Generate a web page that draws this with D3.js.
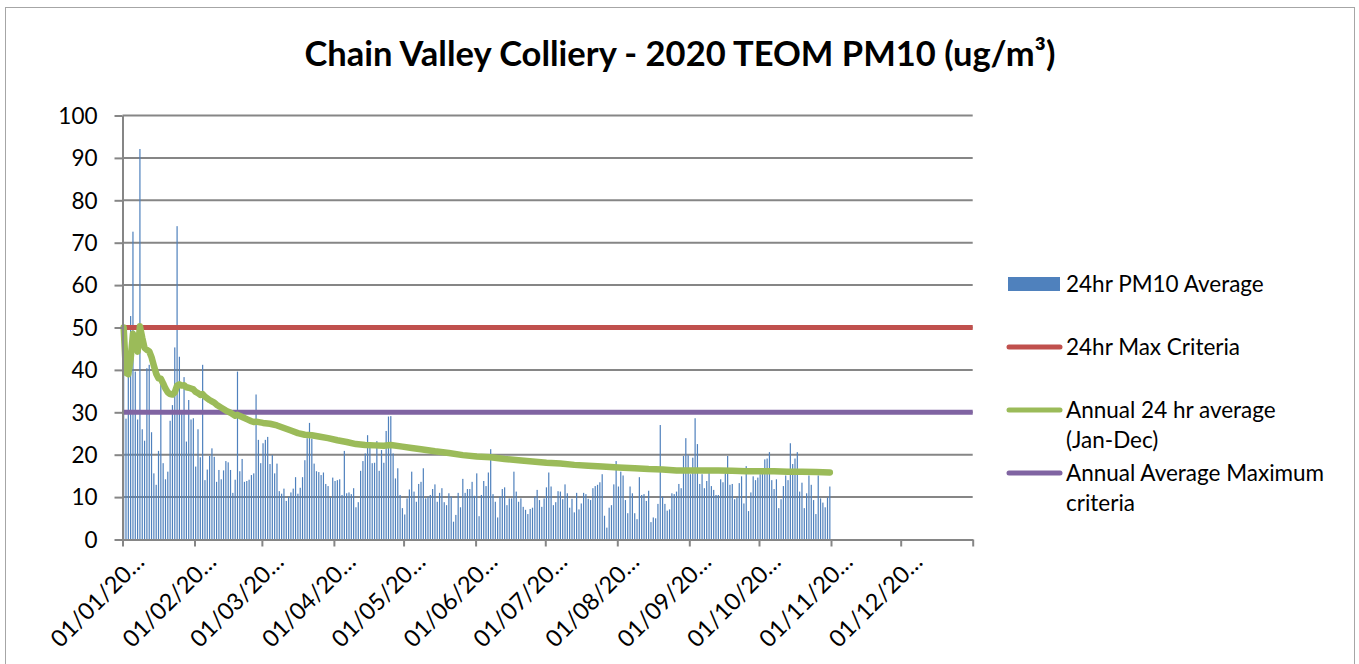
<!DOCTYPE html>
<html>
<head>
<meta charset="utf-8">
<script src="https://cdn.jsdelivr.net/npm/d3@7/dist/d3.min.js"></script>
<style>
  body { margin: 0; background: #fff; }
  text { font-family: Lato, "Open Sans", sans-serif; fill: #000; }
</style>
</head>
<body>
<svg id="chart" width="1359" height="664"></svg>
<script>
// daily 24hr PM10 averages (ug/m3), one value per day from 1 Jan 2020
const jan = [50, 28.5, 38.6, 52.7, 72.6, 39.6, 28.3, 92.1, 26, 23.3, 40.4, 41.2, 25.3, 15.6, 12.9, 20.9,
  36.8, 18, 14.2, 16, 28, 31.7, 45.3, 73.9, 43.1, 29.8, 38.3, 23.1, 32.9, 28.3, 28.6]
const feb = [17.2, 26, 19.4, 41.2, 14, 16.5, 19.7, 21.5, 19.5, 13.6, 16.4, 14.2, 16.3, 18.5, 18.2,
  16.4, 11, 14.1, 39.6, 16.1, 19, 13.6, 13.8, 14.1, 15.2, 15.6, 34.2, 23.5, 18]
const mar = [22.7, 23.5, 24.2, 17.8, 19.9, 15.6, 17.9, 11.4, 10.8, 12, 9.1, 10.1, 11.1, 12, 14.7, 10.8,
  12.2, 14.7, 18.7, 23.9, 27.5, 23.8, 17.9, 16.1, 15.9, 15.2, 15.8, 13.1, 12.6, 9.9, 14.6]
const apr = [13.8, 14, 14.2, 10.5, 20.9, 10.9, 11.1, 10.7, 12.1, 7.6, 8.8, 16.2, 18.5, 20.3, 24.6,
  22.7, 18, 18.1, 23.2, 16.2, 21.1, 18.1, 25.6, 29, 29.1, 20.3, 14.4, 16.8, 10.5, 7.4]
const may = [5.9, 9.7, 11.8, 16, 11.3, 8.9, 13.1, 13.6, 16.8, 9.7, 10.1, 10.5, 11.9, 13, 8.9, 11,
  12.1, 8.8, 8.1, 10.9, 10.1, 4.2, 5.8, 11, 7.6, 14.3, 11, 11.9, 11.9, 13.6, 10.3]
const jun = [15.6, 5.5, 10.5, 13.8, 12.6, 15.8, 21.3, 10.7, 8.9, 5.2, 10.1, 11.9, 12.3, 8.1, 9.7,
  9.7, 16, 11.3, 8.9, 9.7, 7.7, 7, 6, 7.2, 7.5, 10.1, 11.7, 9.3, 7.7, 9.7]
const jul = [12.3, 15.8, 12.5, 8.1, 8.8, 11.4, 11.3, 9.5, 13, 10.9, 7.5, 9.6, 6.4, 11, 7.1, 8.5,
  11, 10.7, 9.6, 9.3, 12.1, 12.6, 12.9, 13.5, 15.4, 5.6, 2.8, 7.5, 8.1, 13, 18.5]
const aug = [12.5, 16, 15.1, 9.3, 6.2, 12.5, 10.9, 6.2, 4.8, 14.7, 10.5, 10.7, 9.1, 11.5, 4.1, 5.2,
  5, 8.4, 27, 10.1, 8.4, 6.8, 7.1, 10.9, 10.7, 11.3, 13.1, 12.1, 19.7, 23.9, 19.9]
const sep = [15.4, 19.3, 28.6, 22.5, 13.1, 15.4, 12.1, 13.8, 15.8, 12.6, 11.7, 10.5, 10.5, 14.2, 13.5,
  15.6, 19.7, 12.9, 13.1, 9.5, 9.9, 13.3, 14.9, 8.5, 17.3, 6.7, 11.1, 14.9, 14, 14.6]
const oct = [15.4, 16.8, 18.9, 19.1, 20.6, 14, 11.9, 14.2, 7.4, 9.5, 12.6, 15.1, 14, 22.7, 17.8, 19.1,
  20.6, 11.3, 13.4, 7.4, 10.9, 15.1, 12.9, 9.3, 6, 15.1, 9.7, 8.7, 7.6, 9.9, 12.5]
const pm10 = [].concat(jan, feb, mar, apr, may, jun, jul, aug, sep, oct)

// annual 24 hr average line (day of year from 0, value)
const avgDay = [0, 1, 2, 3, 4, 5, 6, 7, 8, 9, 10, 11, 12, 13, 14, 15, 16, 17, 18, 19, 20, 21, 22, 23, 24,
  25, 26, 27, 28, 29, 30, 31, 32, 33, 34, 35, 36, 37, 38, 39, 40, 42, 44, 46, 48, 49, 51, 53, 55, 56,
  57, 60, 63, 66, 69, 72, 75, 78, 81, 84, 88, 92, 96, 100, 104, 108, 112, 115, 120, 124, 128, 134,
  140, 146, 152, 158, 164, 170, 176, 182, 188, 194, 200, 206, 213, 220, 226, 232, 238, 244, 250, 256,
  262, 268, 274, 280, 286, 292, 298, 304]
const avgValue = [50, 39.3, 39, 42.5, 48.5, 47, 44.3, 50.3, 47.6, 45.2, 44.7, 44.4, 43, 41, 39.1, 38,
  37.9, 36.8, 35.6, 34.7, 34.3, 34.2, 34.7, 36.3, 36.6, 36.3, 36.4, 35.9, 35.8, 35.6, 35.4, 34.8, 34.5,
  34.1, 34.3, 33.7, 33.3, 32.9, 32.6, 32.3, 31.8, 31.1, 30.4, 29.9, 29.2, 29.4, 28.9, 28.4, 27.9, 27.7,
  27.8, 27.5, 27.3, 26.9, 26.3, 25.7, 25.1, 24.7, 24.6, 24.3, 23.9, 23.4, 23, 22.5, 22.3, 22.2, 22.1,
  22.3, 21.9, 21.6, 21.3, 20.8, 20.4, 19.9, 19.6, 19.4, 19, 18.7, 18.4, 18.1, 17.9, 17.6, 17.4, 17.2,
  17, 16.8, 16.6, 16.5, 16.3, 16.3, 16.3, 16.3, 16.2, 16.1, 16.1, 16.1, 16, 16, 15.9, 15.8]

const maxCriteria = 50
const annualCriteria = 30
const yTicks = [0, 10, 20, 30, 40, 50, 60, 70, 80, 90, 100]
const legendNames = ['24hr PM10 Average', '24hr Max Criteria', 'Annual 24 hr average (Jan-Dec)',
  'Annual Average Maximum criteria']
const title = 'Chain Valley Colliery - 2020 TEOM PM10 (ug/m³)'

const colors = {bar: '#4f81bd', max: '#c0504d', avg: '#9bbb59', annual: '#8064a2', grid: '#868686'}

const svg = d3.select('#chart')
const start = new Date(2020, 0, 1)
const end = new Date(2021, 0, 1)
const dayOf = i => d3.timeDay.offset(start, i)

const x = d3.scaleTime().domain([start, end]).range([122.5, 972.7])
const y = d3.scaleLinear().domain([0, 100]).range([539.5, 115.5])

// chart border
svg.append('rect').attr('x', 5.5).attr('y', 7.5).attr('width', 1349).attr('height', 700)
  .attr('fill', 'none').attr('stroke', '#a6a6a6').attr('stroke-width', 1)

svg.append('text').attr('x', 680).attr('y', 66).attr('text-anchor', 'middle')
  .style('font-size', '34.5px').style('font-weight', 700).text(title)

// gridlines
svg.append('g').selectAll('line').data(yTicks.slice(1)).join('line')
  .attr('x1', x.range()[0]).attr('x2', x.range()[1])
  .attr('y1', d => y(d)).attr('y2', d => y(d))
  .attr('stroke', colors.grid).attr('stroke-width', 2)

// bars
const barW = 1.2
svg.append('g').selectAll('rect').data(pm10).join('rect')
  .attr('x', (d, i) => (x(dayOf(i)) + x(dayOf(i + 1))) / 2 - barW / 2)
  .attr('width', barW)
  .attr('y', d => y(d))
  .attr('height', d => y(0) - y(d))
  .attr('fill', colors.bar)

// criteria lines
const crit = [[maxCriteria, colors.max], [annualCriteria, colors.annual]]
svg.append('g').selectAll('line').data(crit).join('line')
  .attr('x1', x.range()[0]).attr('x2', x.range()[1])
  .attr('y1', d => y(d[0])).attr('y2', d => y(d[0]))
  .attr('stroke', d => d[1]).attr('stroke-width', 5)

// running average
const line = d3.line()
  .x(d => (x(dayOf(d[0])) + x(dayOf(d[0] + 1))) / 2)
  .y(d => y(d[1]))
svg.append('path').datum(d3.zip(avgDay, avgValue))
  .attr('d', line).attr('fill', 'none')
  .attr('stroke', colors.avg).attr('stroke-width', 6.5)
  .attr('stroke-linejoin', 'round').attr('stroke-linecap', 'round')

// axes
const yAxis = svg.append('g').attr('transform', `translate(${x.range()[0]},0)`)
  .call(d3.axisLeft(y).tickValues(yTicks).tickSizeInner(8).tickSizeOuter(0).tickPadding(17))
const months = d3.timeMonth.range(start, d3.timeDay.offset(end, 1))
const fmt = d3.timeFormat('%d/%m/%Y')
const xAxis = svg.append('g').attr('transform', `translate(0,${y(0)})`)
  .call(d3.axisBottom(x).tickValues(months).tickSizeInner(7).tickSizeOuter(0)
    .tickFormat(d => d < end ? fmt(d).slice(0, 8) + '…' : ''))

for (const ax of [xAxis, yAxis]) {
  ax.select('.domain').attr('stroke', colors.grid).attr('stroke-width', 2)
  ax.selectAll('.tick line').attr('stroke', colors.grid).attr('stroke-width', 2)
  ax.selectAll('text').style('font-size', '22.5px').attr('fill', '#000')
    .style('font-family', 'Lato, "Open Sans", sans-serif')
}
yAxis.selectAll('text').attr('dy', '0.35em')
xAxis.selectAll('text')
  .style('font-size', '23.5px')
  .attr('text-anchor', 'end')
  .attr('transform', 'translate(17,18) rotate(-45)')
  .attr('x', 0).attr('y', 0).attr('dy', '0.35em')

// legend
const lg = svg.append('g').style('font-size', '22.5px')
const rows = [284, 347, 410, 473]
const kinds = ['bar', 'max', 'avg', 'annual']
legendNames.forEach((name, i) => {
  const g = lg.append('g').attr('transform', `translate(0,${rows[i]})`)
  if (kinds[i] === 'bar') {
    g.append('rect').attr('x', 1008).attr('y', -7).attr('width', 52).attr('height', 14)
      .attr('fill', colors.bar)
  } else {
    g.append('line').attr('x1', 1009).attr('x2', 1060)
      .attr('stroke', colors[kinds[i]]).attr('stroke-width', 5).attr('stroke-linecap', 'round')
  }
  const words = name.split(' ')
  const lines = i === 2 ? [words.slice(0, 4).join(' '), words[4]]
    : i === 3 ? [words.slice(0, 3).join(' '), words[3]] : [name]
  lines.forEach((t, j) => g.append('text').attr('x', 1066).attr('y', j * 30).attr('dy', '0.35em').text(t))
})
</script>
</body>
</html>
